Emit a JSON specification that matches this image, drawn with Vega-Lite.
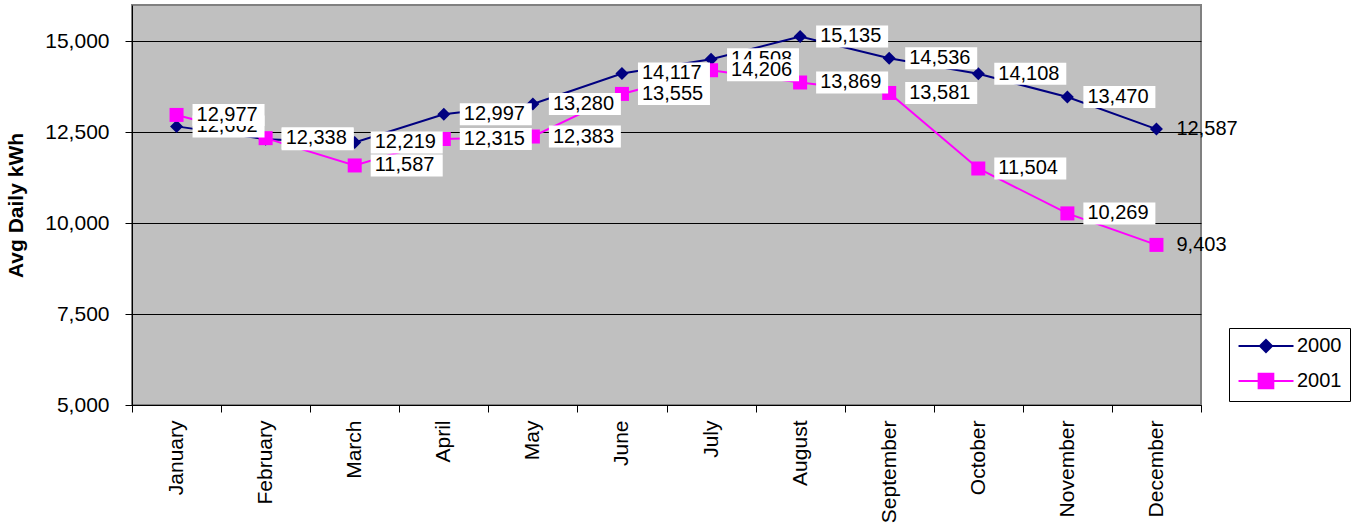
{
  "$schema": "https://vega.github.io/schema/vega-lite/v6.json",
  "width": 1069,
  "height": 400,
  "autosize": {"type": "none"},
  "padding": {"left": 132, "top": 5, "right": 160, "bottom": 124},
  "background": "white",
  "config": {
    "font": "Liberation Sans",
    "view": {"fill": "#C0C0C0", "stroke": "#808080", "strokeWidth": 2}
  },
  "data": {
    "values": [
      {"month": "January", "year": "2000", "kwh": 12662},
      {"month": "February", "year": "2000", "kwh": 12310},
      {"month": "March", "year": "2000", "kwh": 12219},
      {"month": "April", "year": "2000", "kwh": 12997},
      {"month": "May", "year": "2000", "kwh": 13280},
      {"month": "June", "year": "2000", "kwh": 14117},
      {"month": "July", "year": "2000", "kwh": 14508},
      {"month": "August", "year": "2000", "kwh": 15135},
      {"month": "September", "year": "2000", "kwh": 14536},
      {"month": "October", "year": "2000", "kwh": 14108},
      {"month": "November", "year": "2000", "kwh": 13470},
      {"month": "December", "year": "2000", "kwh": 12587},
      {"month": "January", "year": "2001", "kwh": 12977},
      {"month": "February", "year": "2001", "kwh": 12338},
      {"month": "March", "year": "2001", "kwh": 11587},
      {"month": "April", "year": "2001", "kwh": 12315},
      {"month": "May", "year": "2001", "kwh": 12383},
      {"month": "June", "year": "2001", "kwh": 13555},
      {"month": "July", "year": "2001", "kwh": 14206},
      {"month": "August", "year": "2001", "kwh": 13869},
      {"month": "September", "year": "2001", "kwh": 13581},
      {"month": "October", "year": "2001", "kwh": 11504},
      {"month": "November", "year": "2001", "kwh": 10269},
      {"month": "December", "year": "2001", "kwh": 9403}
    ]
  },
  "encoding": {
    "x": {
      "field": "month",
      "type": "nominal",
      "sort": ["January","February","March","April","May","June","July","August","September","October","November","December"],
      "scale": {"type": "band", "paddingInner": 0, "paddingOuter": 0},
      "title": null,
      "axis": {
        "labelAngle": 270,
        "labelAlign": "right",
        "labelBaseline": "middle",
        "labelFontSize": 21,
        "labelColor": "black",
        "labelPadding": 8,
        "tickBand": "extent",
        "tickSize": 7,
        "tickColor": "black",
        "domainColor": "black",
        "grid": false
      }
    },
    "y": {
      "field": "kwh",
      "type": "quantitative",
      "scale": {"domain": [5000, 16000], "nice": false, "zero": false},
      "title": "Avg Daily kWh",
      "axis": {
        "values": [5000, 7500, 10000, 12500, 15000],
        "format": ",.0f",
        "labelFontSize": 21,
        "labelColor": "black",
        "labelPadding": 16,
        "tickSize": 7,
        "tickColor": "black",
        "domainColor": "black",
        "grid": true,
        "gridColor": "black",
        "gridWidth": 1,
        "titleFontSize": 21,
        "titleFontWeight": "bold",
        "titleColor": "black",
        "titlePadding": 18
      }
    }
  },
  "layer": [
    {
      "transform": [{"filter": "datum.year == '2000'"}],
      "mark": {"type": "line", "color": "#000080", "strokeWidth": 2}
    },
    {
      "transform": [{"filter": "datum.year == '2000'"}],
      "mark": {"type": "point", "shape": "diamond", "size": 169, "filled": true, "opacity": 1, "color": "#000080"}
    },
    {
      "transform": [{"filter": "datum.year == '2001'"}],
      "mark": {"type": "line", "color": "#FF00FF", "strokeWidth": 2}
    },
    {
      "transform": [{"filter": "datum.year == '2001'"}],
      "mark": {"type": "point", "shape": "square", "size": 196, "filled": true, "opacity": 1, "color": "#FF00FF"}
    },
    {
      "transform": [{"filter": "datum.year == '2000' && datum.month != 'December'"}],
      "mark": {"type": "point", "shape": "M0.8,-0.55H4.4V0.55H0.8Z", "size": 1600, "filled": true, "opacity": 1, "color": "white", "strokeWidth": 0}
    },
    {
      "transform": [{"filter": "datum.year == '2000'"}],
      "mark": {"type": "text", "align": "left", "baseline": "middle", "xOffset": 20, "fontSize": 20, "color": "black"},
      "encoding": {"text": {"field": "kwh", "type": "quantitative", "format": ","}}
    },
    {
      "transform": [{"filter": "datum.year == '2001' && datum.month != 'December'"}],
      "mark": {"type": "point", "shape": "M0.8,-0.55H4.4V0.55H0.8Z", "size": 1600, "filled": true, "opacity": 1, "color": "white", "strokeWidth": 0}
    },
    {
      "transform": [{"filter": "datum.year == '2001'"}],
      "mark": {"type": "text", "align": "left", "baseline": "middle", "xOffset": 20, "fontSize": 20, "color": "black"},
      "encoding": {"text": {"field": "kwh", "type": "quantitative", "format": ","}}
    },
    {
      "mark": {"type": "point", "filled": true, "opacity": 0},
      "encoding": {
        "color": {
          "field": "year",
          "type": "nominal",
          "scale": {"domain": ["2000", "2001"], "range": ["#000080", "#FF00FF"]},
          "legend": {
            "title": null,
            "orient": "none",
            "legendX": 1097,
            "legendY": 323,
            "strokeColor": "black",
            "fillColor": "white",
            "padding": 8,
            "labelFontSize": 20,
            "labelColor": "black",
            "labelOffset": 40,
            "rowPadding": 13,
            "symbolSize": 225,
            "symbolOpacity": 1,
            "symbolStrokeWidth": 2,
            "encode": {
              "symbols": {
                "update": {
                  "stroke": {"scale": "color", "field": "value"},
                  "fill": {"scale": "color", "field": "value"},
                  "opacity": {"value": 1},
                  "strokeWidth": {"value": 2}
                }
              }
            }
          }
        },
        "shape": {
          "field": "year",
          "type": "nominal",
          "scale": {"domain": ["2000", "2001"], "range": ["M-1.13,0H6.2M1.73,0L2.53,-0.8L3.33,0L2.53,0.8Z", "M-1.13,0H6.2M1.55,-0.98H3.51V0.98H1.55Z"]}
        }
      }
    }
  ]
}
